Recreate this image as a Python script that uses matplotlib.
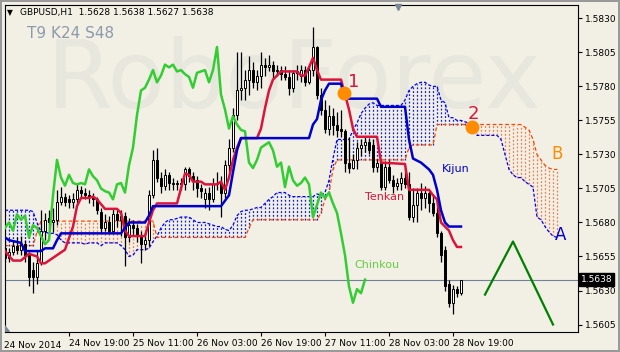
import numpy as np
import matplotlib.pyplot as plt
from matplotlib.patches import Polygon

plt.rcParams['font.family'] = ['DejaVu Sans']

bg = '#F2F0E4'

# GBPUSD H1 candles, 24 Nov 03:00 .. 28 Nov 21:00
opens = [1.5661, 1.5654, 1.5658, 1.5663, 1.5660, 1.5664, 1.5656, 1.5645, 1.5640, 1.5650,
         1.5674, 1.5683, 1.5680, 1.5682, 1.5695, 1.5699, 1.5697, 1.5695, 1.5697, 1.5704,
         1.5702, 1.5700, 1.5699, 1.5697, 1.5688, 1.5676, 1.5680, 1.5674, 1.5686, 1.5682,
         1.5685, 1.5669, 1.5678, 1.5676, 1.5670, 1.5664, 1.5667, 1.5700, 1.5726, 1.5713,
         1.5707, 1.5715, 1.5709, 1.5708, 1.5709, 1.5708, 1.5719, 1.5714, 1.5711, 1.5705,
         1.5697, 1.5702, 1.5697, 1.5708, 1.5709, 1.5702, 1.5722, 1.5735, 1.5759, 1.5777,
         1.5779, 1.5785, 1.5792, 1.5783, 1.5788, 1.5796, 1.5794, 1.5796, 1.5791, 1.5792,
         1.5789, 1.5787, 1.5779, 1.5790, 1.5788, 1.5792, 1.5783, 1.5792, 1.5809, 1.5774,
         1.5763, 1.5749, 1.5758, 1.5752, 1.5749, 1.5747, 1.5724, 1.5720, 1.5726, 1.5735,
         1.5737, 1.5739, 1.5737, 1.5721, 1.5724, 1.5706, 1.5721, 1.5711, 1.5707, 1.5709,
         1.5713, 1.5708, 1.5684, 1.5693, 1.5702, 1.5698, 1.5702, 1.5694, 1.5687, 1.5672,
         1.5660, 1.5635, 1.5621, 1.5631, 1.5628]
highs = [1.5667, 1.5661, 1.5667, 1.5669, 1.5670, 1.5667, 1.5658, 1.5651, 1.5660, 1.5689,
         1.5687, 1.5689, 1.5691, 1.5704, 1.5706, 1.5702, 1.5700, 1.5702, 1.5708, 1.5707,
         1.5705, 1.5704, 1.5702, 1.5699, 1.5691, 1.5686, 1.5685, 1.5691, 1.5689, 1.5689,
         1.5688, 1.5683, 1.5682, 1.5679, 1.5674, 1.5673, 1.5704, 1.5733, 1.5735, 1.5717,
         1.5719, 1.5717, 1.5713, 1.5711, 1.5713, 1.5721, 1.5721, 1.5717, 1.5714, 1.5708,
         1.5705, 1.5706, 1.5713, 1.5717, 1.5714, 1.5726, 1.5741, 1.5764, 1.5805, 1.5805,
         1.5792, 1.5802, 1.5798, 1.5792, 1.5805, 1.5801, 1.5803, 1.5799, 1.5796, 1.5795,
         1.5795, 1.5792, 1.5792, 1.5796, 1.5796, 1.5795, 1.5795, 1.5824, 1.5810, 1.5779,
         1.5770, 1.5766, 1.5764, 1.5761, 1.5763, 1.5749, 1.5743, 1.5730, 1.5739, 1.5741,
         1.5743, 1.5742, 1.5741, 1.5727, 1.5726, 1.5725, 1.5726, 1.5715, 1.5713, 1.5717,
         1.5720, 1.5717, 1.5705, 1.5705, 1.5709, 1.5707, 1.5704, 1.5701, 1.5697, 1.5674,
         1.5663, 1.5638, 1.5634, 1.5633, 1.5638]
lows = [1.5651, 1.5651, 1.5656, 1.5657, 1.5656, 1.5651, 1.5633, 1.5628, 1.5635, 1.5649,
        1.5667, 1.5676, 1.5673, 1.5678, 1.5693, 1.5692, 1.5691, 1.5691, 1.5693, 1.5699,
        1.5697, 1.5694, 1.5692, 1.5686, 1.5673, 1.5674, 1.5672, 1.5672, 1.5677, 1.5670,
        1.5648, 1.5666, 1.5671, 1.5666, 1.5650, 1.5660, 1.5663, 1.5698, 1.5710, 1.5702,
        1.5704, 1.5704, 1.5704, 1.5704, 1.5704, 1.5704, 1.5710, 1.5704, 1.5699, 1.5698,
        1.5691, 1.5689, 1.5695, 1.5704, 1.5684, 1.5698, 1.5717, 1.5732, 1.5755, 1.5770,
        1.5770, 1.5774, 1.5779, 1.5777, 1.5779, 1.5788, 1.5791, 1.5786, 1.5788, 1.5785,
        1.5785, 1.5774, 1.5776, 1.5785, 1.5783, 1.5780, 1.5782, 1.5788, 1.5771, 1.5759,
        1.5746, 1.5744, 1.5744, 1.5743, 1.5743, 1.5717, 1.5716, 1.5719, 1.5719, 1.5729,
        1.5732, 1.5730, 1.5717, 1.5717, 1.5704, 1.5704, 1.5709, 1.5702, 1.5704, 1.5704,
        1.5705, 1.5682, 1.5680, 1.5680, 1.5689, 1.5691, 1.5688, 1.5685, 1.5669, 1.5651,
        1.5630, 1.5618, 1.5613, 1.5625, 1.5627]
closes = [1.5654, 1.5658, 1.5663, 1.5660, 1.5664, 1.5656, 1.5640, 1.5640, 1.5650, 1.5674,
          1.5682, 1.5680, 1.5682, 1.5695, 1.5699, 1.5695, 1.5695, 1.5697, 1.5704, 1.5702,
          1.5700, 1.5699, 1.5697, 1.5689, 1.5676, 1.5680, 1.5674, 1.5686, 1.5682, 1.5685,
          1.5669, 1.5678, 1.5676, 1.5670, 1.5664, 1.5667, 1.5700, 1.5726, 1.5713, 1.5707,
          1.5715, 1.5709, 1.5708, 1.5709, 1.5708, 1.5719, 1.5714, 1.5711, 1.5705, 1.5703,
          1.5702, 1.5697, 1.5708, 1.5709, 1.5702, 1.5722, 1.5735, 1.5759, 1.5777, 1.5779,
          1.5785, 1.5792, 1.5783, 1.5788, 1.5796, 1.5794, 1.5796, 1.5791, 1.5792, 1.5789,
          1.5787, 1.5779, 1.5790, 1.5791, 1.5792, 1.5783, 1.5792, 1.5809, 1.5774, 1.5763,
          1.5749, 1.5758, 1.5752, 1.5748, 1.5747, 1.5724, 1.5720, 1.5726, 1.5735, 1.5737,
          1.5739, 1.5733, 1.5721, 1.5724, 1.5706, 1.5721, 1.5711, 1.5707, 1.5709, 1.5713,
          1.5708, 1.5684, 1.5693, 1.5702, 1.5698, 1.5702, 1.5694, 1.5687, 1.5672, 1.5656,
          1.5633, 1.5621, 1.5631, 1.5628, 1.5638]

# Tenkan (9) and Kijun (24) read as vertices (bar index, price)
tenkan_bar = [0, 2, 4, 6, 8, 9, 10, 13, 15, 17, 18, 19, 21, 22, 23, 25, 28, 29, 30, 31,
              35, 36, 37, 38, 43, 44, 45, 46, 47, 49, 50, 53, 54, 55, 56, 57, 58, 59, 63, 64,
              65, 66, 67, 68, 69, 73, 74, 75, 76, 77, 78, 79, 84, 85, 86, 87, 88, 93, 94, 100,
              101, 106, 107, 108, 109, 111, 112, 113, 114]
tenkan = [1.5659, 1.5652, 1.5652, 1.5657, 1.5655, 1.5650, 1.5650, 1.5656, 1.5660, 1.5677,
          1.5692, 1.5698, 1.5698, 1.5699, 1.5697, 1.5690, 1.5690, 1.5687, 1.5674, 1.5670,
          1.5670, 1.5680, 1.5689, 1.5694, 1.5694, 1.5705, 1.5716, 1.5715, 1.5710, 1.5710,
          1.5708, 1.5708, 1.5710, 1.5704, 1.5713, 1.5726, 1.5735, 1.5742, 1.5742, 1.5749,
          1.5764, 1.5777, 1.5785, 1.5788, 1.5791, 1.5791, 1.5788, 1.5788, 1.5794, 1.5801,
          1.5792, 1.5785, 1.5785, 1.5774, 1.5763, 1.5749, 1.5743, 1.5743, 1.5724, 1.5723,
          1.5704, 1.5704, 1.5700, 1.5697, 1.5680, 1.5674, 1.5667, 1.5662, 1.5662]
kijun_bar = [0, 1, 4, 5, 9, 10, 12, 13, 14, 29, 30, 31, 35, 36, 37, 54, 55, 56, 57, 58, 59,
             76, 77, 78, 79, 80, 81, 84, 85, 93, 94, 100, 101, 102, 104, 106, 107, 108, 109,
             110, 111, 114]
kijun = [1.5669, 1.5667, 1.5665, 1.5659, 1.5659, 1.5661, 1.5661, 1.5667, 1.5672, 1.5672,
         1.5676, 1.5680, 1.5680, 1.5685, 1.5692, 1.5692, 1.5696, 1.5700, 1.5717, 1.5733,
         1.5742, 1.5742, 1.5752, 1.5756, 1.5770, 1.5777, 1.5782, 1.5782, 1.5771, 1.5771,
         1.5765, 1.5765, 1.5741, 1.5727, 1.5724, 1.5719, 1.5715, 1.5704, 1.5689, 1.5680,
         1.5677, 1.5677]

# Senkou spans, one value per bar (bars 0..138, the last 24 are ahead of price)
senkou_a = ([1.5689] * 7
            + [1.5688, 1.5680, 1.5673, 1.5673, 1.5672, 1.5672, 1.5671, 1.5667]
            + [1.5665] * 5 + [1.5664] + [1.5665] * 3 + [1.5663] + [1.5665] * 4
            + [1.5663, 1.5660, 1.5655, 1.5656, 1.5660, 1.5660, 1.5660, 1.5661, 1.5666, 1.5670,
               1.5676, 1.5680, 1.5682, 1.5682, 1.5683, 1.5684, 1.5684, 1.5684, 1.5682, 1.5680,
               1.5680, 1.5680, 1.5679, 1.5678, 1.5677, 1.5677, 1.5675, 1.5674, 1.5678, 1.5685,
               1.5688, 1.5689, 1.5689, 1.5690, 1.5691, 1.5691, 1.5694, 1.5697, 1.5699, 1.5702,
               1.5702, 1.5702, 1.5700, 1.5699, 1.5699, 1.5699, 1.5699, 1.5699, 1.5699, 1.5701,
               1.5700, 1.5702, 1.5711, 1.5727]
            + [1.5741] * 4
            + [1.5748, 1.5753, 1.5760, 1.5764, 1.5767, 1.5768]
            + [1.5766] * 7
            + [1.5770, 1.5777, 1.5780, 1.5782, 1.5783, 1.5783, 1.5781, 1.5780, 1.5780, 1.5770,
               1.5768, 1.5757, 1.5757, 1.5755, 1.5755, 1.5754, 1.5753, 1.5752, 1.5744]
            + [1.5744] * 5
            + [1.5741, 1.5730, 1.5719, 1.5715, 1.5713, 1.5713, 1.5710, 1.5708, 1.5706, 1.5684,
               1.5682, 1.5677, 1.5673, 1.5670, 1.5669])
senkou_b = ([1.5663] * 8 + [1.5673] + [1.5681] * 29 + [1.5669] * 23 + [1.5676]
            + [1.5682] * 17 + [1.5687, 1.5697, 1.5702, 1.5719] + [1.5726] * 18
            + [1.5735] + [1.5737] * 6 + [1.5752] * 22
            + [1.5750, 1.5748, 1.5741, 1.5730, 1.5726, 1.5722, 1.5720, 1.5719, 1.5719])

# hand drawn forecast
fc_bar = [120, 127, 137]
fc_price = [1.5627, 1.5666, 1.5605]

yticks = [1.5605, 1.5630, 1.5655, 1.5680, 1.5705, 1.5730, 1.5755, 1.5780, 1.5805, 1.5830]
xtick_bars = [16, 32, 48, 64, 80, 96, 112]
xtick_labels = ['24 Nov 19:00', '25 Nov 11:00', '26 Nov 03:00', '26 Nov 19:00',
                '27 Nov 11:00', '28 Nov 03:00', '28 Nov 19:00']
last_price = 1.5638
shift = 24

o = np.array(opens); h = np.array(highs); l = np.array(lows); c = np.array(closes)
x = np.arange(len(c))
sa = np.array(senkou_a); sb = np.array(senkou_b)
cx = np.arange(len(sa))

fig = plt.figure(figsize=(6.2, 3.52), dpi=100)
fig.patch.set_facecolor(bg)
fig.patch.set_edgecolor('#9A9A9A')
fig.patch.set_linewidth(1.5)
ax = fig.add_axes([4.5 / 620, 20 / 352, 573.5 / 620, 327.5 / 352])
ax.set_facecolor(bg)

# watermark
ax.text(0.505, 0.765, 'RoboForex', transform=ax.transAxes, fontsize=68, color='#E7E7DD',
        ha='center', va='center', zorder=0)

# cloud hatch
up = sa >= sb
ax.vlines(cx[up], sb[up], sa[up], colors='#1020E0', linewidth=0.9,
          linestyles=(0, (1.5, 1.5)), zorder=1)
ax.vlines(cx[~up], sa[~up], sb[~up], colors='#F08050', linewidth=0.9,
          linestyles=(0, (1.5, 1.5)), zorder=1)
ax.plot(cx, sa, color='#0000FF', lw=0.9, ls=(0, (2.5, 1.5)), zorder=1.5)
ax.plot(cx, sb, color='#FF4500', lw=0.9, ls=(0, (3, 2)), zorder=1.5)

ax.axhline(last_price, color='#6F819B', lw=0.8, zorder=1.2)

# candles
ax.vlines(x, l, h, color='black', lw=0.9, zorder=2.9)
body_lo = np.minimum(o, c)
body_h = np.maximum(np.abs(c - o), 0.00003)
fills = np.where(c >= o, 'white', 'black')
ax.bar(x, body_h, bottom=body_lo, width=0.6, color=fills, edgecolor='black',
       linewidth=0.7, zorder=3)

# ichimoku lines
ax.plot(x[shift:] - shift, c[shift:], color='#32CD32', lw=1.8, zorder=4)
ax.plot(tenkan_bar, tenkan, color='#DC143C', lw=1.8, zorder=4.5)
ax.plot(kijun_bar, kijun, color='#0000CD', lw=1.8, zorder=5)

ax.plot(fc_bar, fc_price, color='#008000', lw=1.6, zorder=5)

# marks and labels
ax.plot([84.75, 116.75], [1.5775, 1.5750], 'o', color='#FF8C00', ms=9, zorder=6)
ax.text(87.2, 1.5783, '1', color='#DC143C', fontsize=13, ha='center', va='center', zorder=6)
ax.text(117.2, 1.5760, '2', color='#DC143C', fontsize=13, ha='center', va='center', zorder=6)
ax.text(138, 1.5730, 'B', color='#FF8C00', fontsize=12, ha='center', va='center')
ax.text(139, 1.5671, 'A', color='#0000CD', fontsize=12, ha='center', va='center')
ax.text(112.8, 1.5719, 'Kijun', color='#0000CD', fontsize=8, ha='center', va='center')
ax.text(95, 1.5699, 'Tenkan', color='#DC143C', fontsize=8, ha='center', va='center')
ax.text(93, 1.5649, 'Chinkou', color='#66CC44', fontsize=8, ha='center', va='center')
ax.text(0.04, 0.91, 'T9 K24 S48', transform=ax.transAxes, fontsize=11, color='#8C9AAD',
        ha='left', va='center')
ax.text(0.004, 0.975, '\u25bc', transform=ax.transAxes, fontsize=5.5, color='black',
        ha='left', va='center')
ax.text(0.027, 0.975, 'GBPUSD,H1  1.5628 1.5638 1.5627 1.5638', transform=ax.transAxes,
        fontsize=6.5, color='black', ha='left', va='center')
ax.plot([0.686], [0.992], 'v', color='#7A8799', ms=5, transform=ax.transAxes,
        clip_on=False, zorder=6)
ax.add_patch(Polygon([(0, 0), (0.009, 0), (0, 0.02)], closed=True, transform=ax.transAxes,
                     color='#7A8799', zorder=6))

# axes
ax.set_xlim(-0.125, 143.25)
ax.set_ylim(1.55995, 1.58402)
ax.yaxis.tick_right()
ax.set_yticks(yticks)
ax.set_yticklabels(['%.4f' % v for v in yticks])
ax.set_xticks(xtick_bars)
ax.set_xticklabels(xtick_labels)
for lbl in ax.get_xticklabels():
    lbl.set_ha('left')
ax.tick_params(axis='both', direction='out', length=3, width=0.8, labelsize=6.5,
               colors='black', pad=2)
ax.text(0.0, -0.028, '24 Nov 2014', transform=ax.transAxes, fontsize=6.5,
        ha='left', va='top')
ax.text(1.005, last_price, '%.4f' % last_price, transform=ax.get_yaxis_transform(),
        fontsize=6.5, color='white', ha='left', va='center',
        bbox=dict(boxstyle='square,pad=0.2', fc='black', ec='black'), zorder=7)
for s in ax.spines.values():
    s.set_color('black')
    s.set_linewidth(0.8)

fig.savefig('out.png', dpi=100, facecolor=bg, edgecolor='#9A9A9A')
